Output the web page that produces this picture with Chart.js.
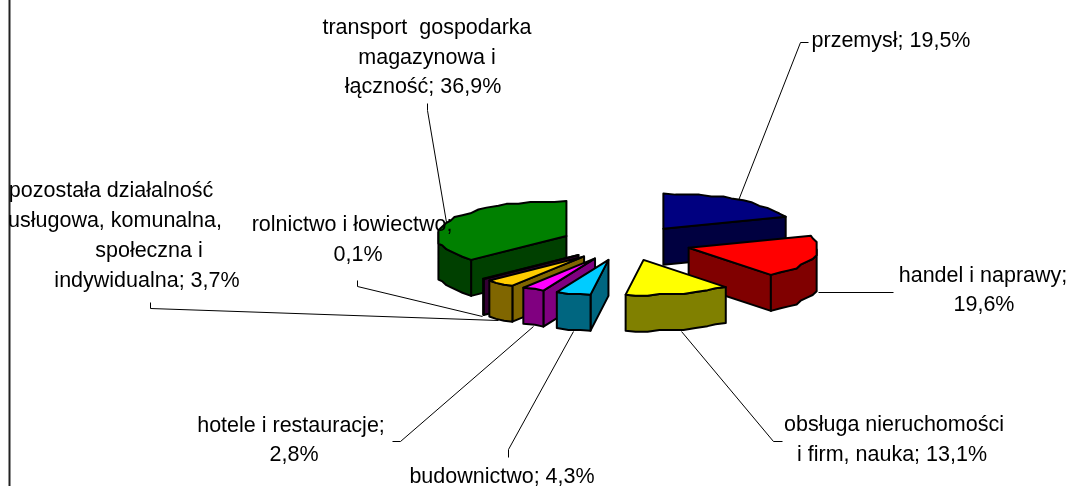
<!DOCTYPE html>
<html><head><meta charset="utf-8">
<style>html,body{margin:0;padding:0;background:#fff}#w{position:relative;width:1068px;height:486px}canvas{display:block}</style>
<script src="https://cdn.jsdelivr.net/npm/chart.js@4"></script>
</head><body><div id="w"><canvas id="c" width="1068" height="486"></canvas></div>
<script>
const categories = ['przemysł','handel i naprawy','obsługa nieruchomości i firm, nauka','budownictwo','hotele i restauracje','pozostała działalność usługowa, komunalna, społeczna i indywidualna','rolnictwo i łowiectwo','transport  gospodarka magazynowa i łączność'];
const values = [19.5,19.6,13.1,4.3,2.8,3.7,0.1,36.9];
const topColors = ['#000080','#ff0000','#ffff00','#00ccff','#ff00ff','#ffcc00','#660066','#008000'];
const sideColors = ['#000040','#800000','#808000','#006680','#800080','#806600','#330033','#004000'];
const drawOrder = [7,0,6,5,4,3,1,2];
const labelLines = [
 ['przemysł; 19,5%'],
 ['handel i naprawy;','19,6%'],
 ['obsługa nieruchomości','i firm, nauka; 13,1%'],
 ['budownictwo; 4,3%'],
 ['hotele i restauracje;','2,8%'],
 ['pozostała działalność','usługowa, komunalna,','społeczna i','indywidualna; 3,7%'],
 ['rolnictwo i łowiectwo;','0,1%'],
 ['transport  gospodarka','magazynowa i','łączność; 36,9%']
];
const labelX = [[891],[983,984],[894,892],[502],[291,294],[111,115,149,147],[352,358],[427,427,423]];
const labelY = [[41],[276,305],[425,455],[477],[426,455],[191,221,251,281],[225,255],[28,58,87]];
const leaders = [
 [[738,200],[800,42],[808,42]],
 [[818,292],[893,292]],
 [[681,331],[773,441],[782,441]],
 [[573,331],[508,449],[508,457]],
 [[533,326],[400,441],[392,441]],
 [[498,320],[150,308],[150,302]],
 [[482,316],[357,286],[357,280]],
 [[446,222],[427,110],[427,103]]
];
const SQUASH=0.27, DEPTH=36, GRIDX=4, GRIDY=7, ARC_STEP=12;

const pie3d={id:'pie3d',
 beforeDatasetDraw(chart){
  const ctx=chart.ctx, meta=chart.getDatasetMeta(0);
  ctx.save();
  ctx.lineJoin='round';
  ctx.strokeStyle='#000';
  leaders.forEach(l=>{ctx.lineWidth=1;ctx.beginPath();l.forEach((p,i)=>i?ctx.lineTo(p[0]+.5,p[1]+.5):ctx.moveTo(p[0]+.5,p[1]+.5));ctx.stroke();});
  drawOrder.forEach(i=>{
   const a=meta.data[i];
   const o=a.options.offset||0, mid=(a.startAngle+a.endAngle)/2;
   const cx=a.x+o*Math.cos(mid), cy=a.y+SQUASH*o*Math.sin(mid), R=a.outerRadius;
   const pts=[[cx,cy]];
   const sp=a.endAngle-a.startAngle, n=Math.max(1,Math.round(sp*R/ARC_STEP));
   for(let k=0;k<=n;k++){
    const t=a.startAngle+sp*k/n;
    let x=R*Math.cos(t), y=R*Math.sin(t);
    if(k>0&&k<n){x=Math.round(x/GRIDX)*GRIDX;y=Math.round(y/GRIDY)*GRIDY;}
    pts.push([cx+x,cy+SQUASH*y]);
   }
   const poly=(p,fill)=>{ctx.beginPath();p.forEach((q,j)=>j?ctx.lineTo(q[0],q[1]):ctx.moveTo(q[0],q[1]));ctx.closePath();ctx.fillStyle=fill;ctx.fill();ctx.lineWidth=2;ctx.stroke();};
   const wall=(p)=>poly(p.concat(p.slice().reverse().map(q=>[q[0],q[1]+DEPTH])),sideColors[i]);
   const first=pts[1], last=pts[pts.length-1];
   if(cx-first[0]>.01) wall([pts[0],first]);
   if(last[0]-cx>.01) wall([last,pts[0]]);
   const arc=pts.slice(1); let run=[];
   for(let k=0;k<arc.length;k++){
    const front=(a.startAngle+sp*k/(arc.length-1)+Math.PI*4)%(Math.PI*2)<Math.PI+.001 || k>0 && (a.startAngle+sp*(k-1)/(arc.length-1)+Math.PI*4)%(Math.PI*2)<Math.PI;
    if(front) run.push(arc[k]);
   }
   if(run.length>1) wall(run);
   poly(pts,topColors[i]);
  });
  ctx.restore();
  return false;
 },
 afterDatasetsDraw(chart){
  const ctx=chart.ctx;
  ctx.save();
  ctx.fillStyle='#222';ctx.fillRect(8.5,0,2,486);
  ctx.font='21.5px "Liberation Sans", Arial, sans-serif';
  ctx.fillStyle='#000';
  ctx.textAlign='center';ctx.textBaseline='middle';
  labelLines.forEach((ls,i)=>ls.forEach((s,j)=>ctx.fillText(s,labelX[i][j],labelY[i][j])));
  ctx.restore();
 }
};
new Chart(document.getElementById('c'),{
 type:'pie',
 data:{labels:categories,datasets:[{data:values,backgroundColor:topColors,offset:65,radius:130,borderWidth:0}]},
 options:{responsive:false,animation:false,layout:{padding:{left:184}},
  plugins:{legend:{display:false},tooltip:{enabled:false}}},
 plugins:[pie3d]
});
</script></body></html>
